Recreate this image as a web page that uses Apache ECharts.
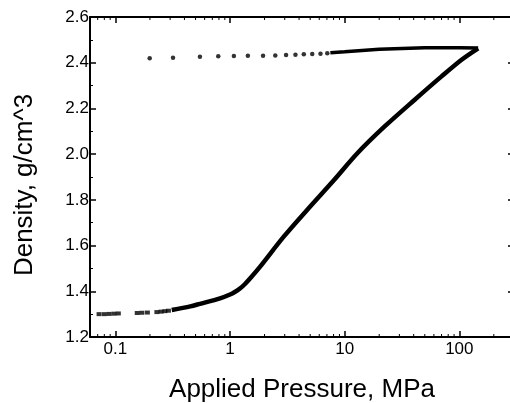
<!DOCTYPE html>
<html><head><meta charset="utf-8">
<script src="https://cdn.jsdelivr.net/npm/echarts@6/dist/echarts.min.js"></script>
<style>html,body{margin:0;padding:0;background:#fff}#c{width:510px;height:403px}</style>
</head><body><div id="c"></div>
<script>
// Loading: low-pressure dotted part
const loadDotsP = [0.072, 0.080, 0.088, 0.097, 0.106, 0.155, 0.17, 0.19, 0.23, 0.25, 0.27, 0.29];
const loadDotsD = [1.300, 1.300, 1.301, 1.302, 1.303, 1.305, 1.306, 1.307, 1.309, 1.311, 1.313, 1.315];
// Loading: dense (solid) part
const loadP = [0.31, 0.45, 0.545, 0.817, 1.0, 1.1, 1.22, 1.35, 1.5, 1.83, 2.94, 4.70, 8.08, 12.9, 22.2, 40.6, 69.6, 104, 146];
const loadD = [1.318, 1.334, 1.345, 1.369, 1.386, 1.397, 1.412, 1.432, 1.457, 1.508, 1.639, 1.756, 1.887, 2.004, 2.120, 2.237, 2.339, 2.412, 2.463];
// Unloading: dense (solid) part
const unloadP = [146, 100, 50, 20, 10, 7.5];
const unloadD = [2.464, 2.466, 2.465, 2.459, 2.448, 2.444];
// Unloading: dotted part
const unloadDotsP = [7.05, 6.15, 5.21, 4.40, 3.72, 3.08, 2.48, 1.94, 1.43, 1.08, 0.789, 0.546, 0.318, 0.199];
const unloadDotsD = [2.441, 2.439, 2.438, 2.437, 2.435, 2.434, 2.432, 2.431, 2.430, 2.429, 2.428, 2.426, 2.422, 2.420];
const xTickLabels = ['0.1', '1', '10', '100'];
const xMinorTicks = [0.07, 0.08, 0.09, 0.2, 0.3, 0.4, 0.5, 0.6, 0.7, 0.8, 0.9, 2, 3, 4, 5, 6, 7, 8, 9,
  20, 30, 40, 50, 60, 70, 80, 90, 200];

const zip = (a, b) => a.map((v, i) => [v, b[i]]);
const FONT = 'Liberation Sans';
const axisLine = {show: true, onZero: false, lineStyle: {color: '#000', width: 2}};
const tickS = {show: true, inside: true, length: 6, lineStyle: {color: '#000', width: 1.5}};
const minorS = {show: true, length: 3, lineStyle: {color: '#000', width: 1}};

const chart = echarts.init(document.getElementById('c'), null, {renderer: 'canvas'});
chart.setOption({
  animation: false,
  backgroundColor: '#fff',
  grid: {left: 90, width: 424, top: 17, bottom: 66, containLabel: false, outerBoundsMode: 'none'},
  xAxis: [{
    type: 'log', logBase: 10, min: 0.06, max: 300, position: 'bottom',
    name: 'Applied Pressure, MPa', nameLocation: 'middle', nameGap: 40,
    nameTextStyle: {fontFamily: FONT, fontSize: 26, color: '#000'},
    axisLine: axisLine, axisTick: tickS, minorTick: {show: false},
    splitLine: {show: false},
    axisLabel: {show: true, showMinLabel: false, showMaxLabel: false, fontFamily: FONT, fontSize: 17, color: '#000', margin: 4,
      formatter: v => { const s = String(+v.toPrecision(3)); return xTickLabels.includes(s) ? s : ''; }}
  }, {
    type: 'log', logBase: 10, min: 0.06, max: 300, position: 'top',
    axisLine: axisLine, axisTick: tickS, minorTick: {show: false},
    splitLine: {show: false}, axisLabel: {show: false}
  }],
  yAxis: [{
    type: 'value', min: 1.2, max: 2.6, interval: 0.2, position: 'left',
    name: 'Density, g/cm^3', nameLocation: 'middle', nameGap: 52, nameRotate: 90,
    nameTextStyle: {fontFamily: FONT, fontSize: 26, color: '#000', padding: [0, 16, 0, 0]},
    axisLine: axisLine, axisTick: tickS, minorTick: Object.assign({splitNumber: 2}, minorS),
    splitLine: {show: false},
    axisLabel: {fontFamily: FONT, fontSize: 17, color: '#000', margin: 1, formatter: v => v.toFixed(1)}
  }, {
    type: 'value', min: 1.2, max: 2.6, interval: 0.2, position: 'right',
    axisLine: axisLine, axisTick: tickS, minorTick: Object.assign({splitNumber: 2}, minorS),
    splitLine: {show: false}, axisLabel: {show: false}
  }],
  series: [
    {type: 'custom', silent: true, data: xMinorTicks.map(v => [v]),
      renderItem: (params, api) => {
        const v = api.value(0);
        const b = api.coord([v, 1.2]);
        const t = api.coord([v, 2.6]);
        const st = {stroke: '#000', lineWidth: 1};
        return {type: 'group', children: [
          {type: 'line', shape: {x1: b[0], y1: b[1], x2: b[0], y2: b[1] - 3}, style: st},
          {type: 'line', shape: {x1: t[0], y1: t[1], x2: t[0], y2: t[1] + 3}, style: st}
        ]};
      }},
    {type: 'scatter', data: zip(loadDotsP, loadDotsD), symbol: 'rect', symbolSize: [5, 4], itemStyle: {color: '#000'}, silent: true},
    {type: 'line', data: zip(loadP, loadD), showSymbol: false, smooth: 0.3, lineStyle: {color: '#000', width: 4.5}, silent: true},
    {type: 'line', data: zip(unloadP, unloadD), showSymbol: false, lineStyle: {color: '#000', width: 3.5}, silent: true},
    {type: 'scatter', data: zip(unloadDotsP, unloadDotsD), symbol: 'circle', symbolSize: 4.5, itemStyle: {color: '#000'}, silent: true}
  ]
});
</script></body></html>
